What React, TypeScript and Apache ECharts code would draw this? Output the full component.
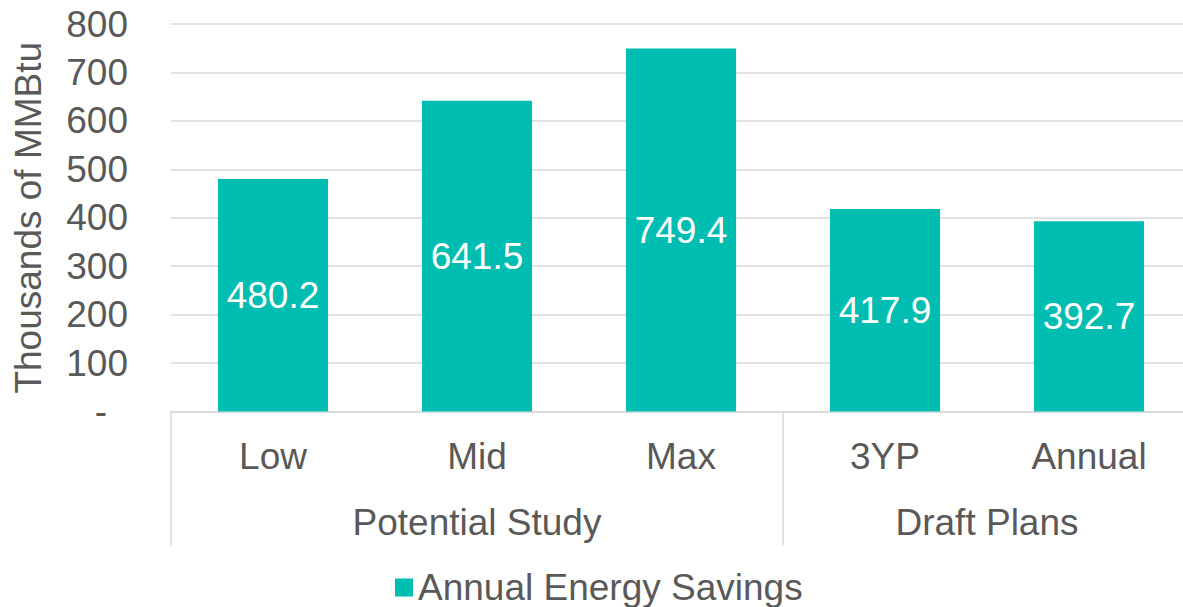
import React, { useEffect, useRef } from "react";
import * as echarts from "echarts";

const categories = ["Low", "Mid", "Max", "3YP", "Annual"];
const savings = [480.2, 641.5, 749.4, 417.9, 392.7];
const groupNames = ["Potential Study", "Draft Plans"];
const groupSizes = [3, 2];
const seriesName = "Annual Energy Savings";
const yTitle = "Thousands of MMBtu";

const FONT = 'Arial, "Liberation Sans", sans-serif';
const GRAY = "#595959";
const LINE = "#d9d9d9";
const TEAL = "#00BDB2";

export default function App() {
  const ref = useRef<HTMLDivElement>(null);
  useEffect(() => {
    if (!ref.current) return;
    const chart = echarts.init(ref.current, undefined, { renderer: "svg" });

    const groupCentres: number[] = [];
    const boundaries: number[] = [0];
    let acc = 0;
    groupSizes.forEach((s) => {
      groupCentres.push(acc + s / 2);
      acc += s;
      boundaries.push(acc);
    });

    chart.setOption({
      animation: false,
      textStyle: { fontFamily: FONT },
      grid: {
        left: 171,
        top: 24,
        bottom: 195.5,
        right: -8,
        containLabel: false,
        outerBoundsMode: "none",
      },
      legend: {
        left: 395,
        top: 569,
        padding: 0,
        itemWidth: 18,
        itemHeight: 18,
        icon: "rect",
        textStyle: { fontSize: 37, color: GRAY, fontFamily: FONT },
        data: [seriesName],
      },
      xAxis: [
        {
          type: "category",
          data: categories,
          axisLine: { show: true, lineStyle: { color: LINE, width: 1.5 } },
          axisTick: {
            show: true,
            length: 134,
            lineStyle: { color: LINE, width: 1.5 },
            interval: (i: number) => boundaries.indexOf(i) >= 0,
          },
          axisLabel: { fontSize: 37, color: GRAY, margin: 26, fontFamily: FONT, interval: 0 },
        },
        {
          type: "value",
          position: "bottom",
          min: 0,
          max: categories.length,
          interval: 0.5,
          axisLine: { show: false },
          axisTick: { show: false },
          splitLine: { show: false },
          axisLabel: {
            fontSize: 37,
            color: GRAY,
            margin: 92,
            fontFamily: FONT,
            showMinLabel: true,
            showMaxLabel: true,
            formatter: (v: number) => {
              const idx = groupCentres.findIndex((c) => Math.abs(c - v) < 1e-6);
              return idx >= 0 ? groupNames[idx] : "";
            },
          },
        },
      ],
      yAxis: {
        type: "value",
        min: 0,
        max: 800,
        interval: 100,
        name: yTitle,
        nameLocation: "middle",
        nameRotate: 90,
        nameGap: 124,
        nameTextStyle: { fontSize: 37, color: GRAY, fontFamily: FONT },
        axisLine: { show: false },
        axisTick: { show: false },
        splitLine: { lineStyle: { color: LINE, width: 1.5 } },
        axisLabel: {
          fontSize: 37,
          color: GRAY,
          margin: 43,
          fontFamily: FONT,
          formatter: (v: number) => (v === 0 ? "{dash|-}" : String(v)),
          rich: {
            dash: { fontSize: 37, color: GRAY, fontFamily: FONT, padding: [0, 21, 0, 0] },
          },
        },
      },
      series: [
        {
          name: seriesName,
          type: "bar",
          xAxisIndex: 0,
          data: savings,
          barWidth: "54%",
          itemStyle: { color: TEAL },
          label: {
            show: true,
            position: "inside",
            color: "#ffffff",
            fontSize: 37,
            fontFamily: FONT,
            formatter: (p: any) => Number(p.value).toFixed(1),
          },
        },
      ],
    });
    return () => chart.dispose();
  }, []);
  return (
    <div
      ref={ref}
      style={{ position: "absolute", left: 0, top: 0, width: 1183, height: 607, background: "#fff" }}
    />
  );
}
